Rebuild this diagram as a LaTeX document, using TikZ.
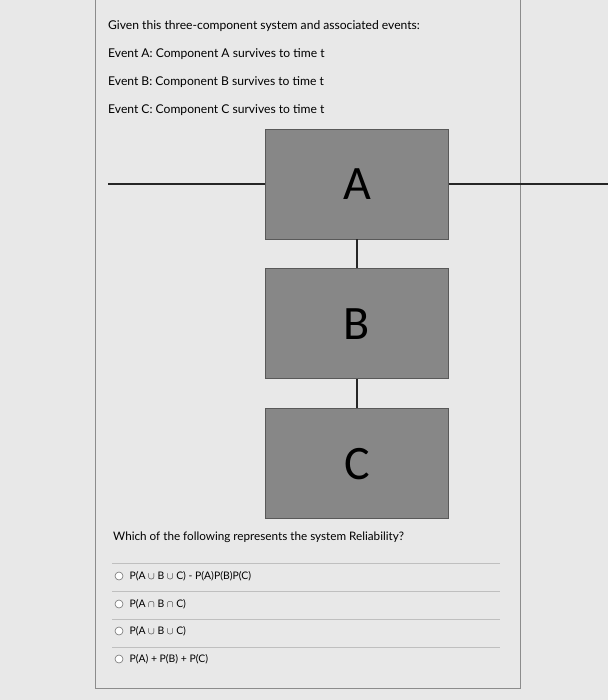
\documentclass[tikz,border=0pt]{standalone}
\usepackage{fontspec}
\setmainfont{Lato}
\newfontfamily\boxfont{Carlito}
\usepackage{tikz}
\usetikzlibrary{positioning}

\begin{document}
\begin{tikzpicture}[%
		x=1pt, y=-1pt,
		font=\fontsize{12.1}{14}\selectfont,
		screen/.style={fill=black!9},
		frame/.style={draw=black!45, line width=0.8pt},
		comp/.style={draw=black!65, fill=black!47, line width=0.8pt, minimum width=183pt,
			minimum height=110pt, inner sep=0pt, font=\boxfont\fontsize{48}{48}\selectfont},
		wire/.style={draw=black!85, line width=1.1pt},
		txt/.style={anchor=base west, inner sep=0pt},
		opt/.style={anchor=west, inner sep=0pt, font=\fontsize{10.4}{12}\selectfont},
		radio/.style={draw=black!55, line width=0.6pt, fill=white, circle, minimum size=8pt, inner sep=0pt},
		sep/.style={draw=black!25, line width=0.6pt}
		]

		%% Hintergrund und Rahmen
		\useasboundingbox (0,0) rectangle (608,700);
		\fill [screen] (0,0) rectangle (608,700);
		\draw [frame] (95,0) -- (95,688) -- (520,688) -- (520,0);

		%% Texte oben
		\node [txt] (given) at (108,30) {Given this three-component system and associated events:};
		\node [txt] (evA) at (108,58) {Event A: Component A survives to time t};
		\node [txt] (evB) at (108,86) {Event B: Component B survives to time t};
		\node [txt] (evC) at (108,114) {Event C: Component C survives to time t};

		%% Komponenten
		\node [comp] (A) at (357,184) {A};
		\node [comp, below=29pt of A] (B) {B};
		\node [comp, below=29pt of B] (C) {C};

		\coordinate (in) at (108,184);
		\coordinate (out) at (608,184);
		\draw [wire] (in) -- (A.west);
		\draw [wire] (A.east) -- (out);
		\draw [wire] (A) -- (B);
		\draw [wire] (B) -- (C);

		%% Frage
		\node [txt] (question) at (113,540) {\fontsize{11.7}{13}\selectfont Which of the following represents the system Reliability?};

		\foreach \y in {563,591,619,647} {
			\coordinate (sl\y) at (112,\y);
			\coordinate (sr\y) at (500,\y);
			\draw [sep] (sl\y) -- (sr\y);
		}

		%% Antworten
		\foreach \y/\name/\ans in {576/one/{P(A $\cup$ B $\cup$ C) - P(A)P(B)P(C)},
			604/two/{P(A $\cap$ B $\cap$ C)},
			631/three/{P(A $\cup$ B $\cup$ C)},
			659/four/{P(A) + P(B) + P(C)}} {
			\node [radio] (r\name) at (119,\y) {};
			\node [opt, right=6pt of r\name] (a\name) {\ans};
		}

	\end{tikzpicture}
\end{document}
